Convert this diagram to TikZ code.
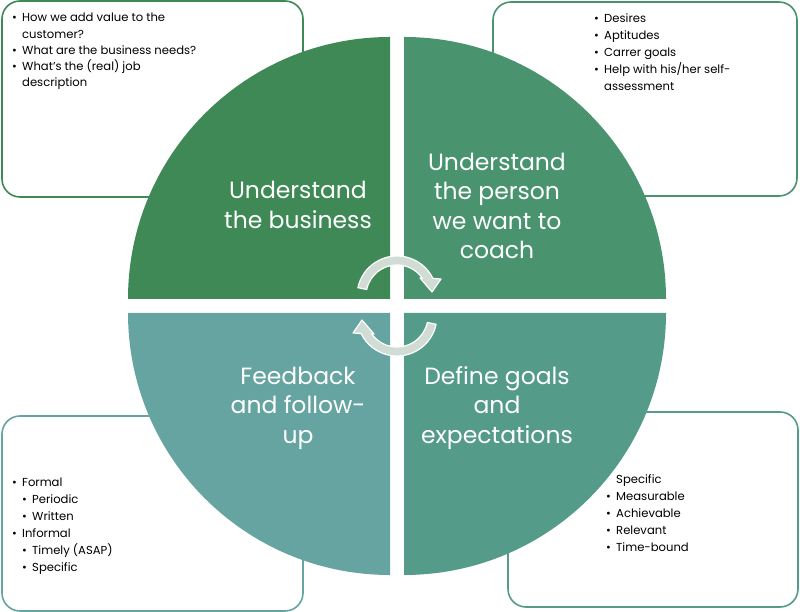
\documentclass[tikz,border=0pt]{standalone}
\usepackage{fontspec}
\setmainfont{Poppins}

\definecolor{cA}{RGB}{62,137,85}
\definecolor{cB}{RGB}{73,148,111}
\definecolor{cC}{RGB}{84,155,138}
\definecolor{cD}{RGB}{101,164,161}
\definecolor{arrowfill}{RGB}{209,220,212}

% bullet and hanging indent for the note lists
\newcommand{\bul}{\makebox[10pt][l]{\textbullet}}
\newcommand{\ind}{\hspace*{10pt}}

\begin{document}
\begin{tikzpicture}[x=1pt,y=1pt,
  panel/.style={line width=1.6pt, rounded corners=18pt, fill=white},
  note/.style={anchor=north west, inner sep=0pt, align=left,
    font=\fontsize{11.6}{17}\selectfont, text=black},
  title/.style={text=white, align=center, inner sep=0pt,
    font=\fontsize{23.5}{29.5}\selectfont},
  cyclearrow/.style={fill=arrowfill, draw=white, line width=1.2pt, line join=round}]
\useasboundingbox (0,0) rectangle (800,612);

% corner panels behind the disc
\draw[panel, draw=cA] (2,415) rectangle (303,611);
\draw[panel, draw=cB] (493,416) rectangle (797,610);
\draw[panel, draw=cC] (508,5) rectangle (798,200);
\draw[panel, draw=cD] (2,1) rectangle (303,196);

% the four quarter sectors
\fill[cA] (390,313) -- (128,313) arc[start angle=180, end angle=90, radius=262] -- cycle;
\fill[cB] (404,313) -- (404,575) arc[start angle=90, end angle=0, radius=262] -- cycle;
\fill[cC] (404,299) -- (666,299) arc[start angle=0, end angle=-90, radius=262] -- cycle;
\fill[cD] (390,299) -- (390,37) arc[start angle=270, end angle=180, radius=262] -- cycle;

% sector titles
\node[title] (tA) at (298,407) {Understand\\the business};
\node[title] (tB) at (497,406) {Understand\\the person\\we want to\\coach};
\node[title] (tC) at (497,204) {Define goals\\and\\expectations};
\node[title] (tD) at (298,204) {Feedback\\and follow-\\up};

% panel notes
\node[note, font=\fontsize{11.6}{16.3}\selectfont] (nA) at (12,599) {\bul How we add value to the\\\ind customer?\\\bul What are the business needs?\\\bul What's the (real) job\\\ind description};
\node[note] (nB) at (594,599) {\bul Desires\\\bul Aptitudes\\\bul Carrer goals\\\bul Help with his/her self-\\\ind assessment};
\node[note] (nC) at (606,138) {\ind Specific\\\bul Measurable\\\bul Achievable\\\bul Relevant\\\bul Time-bound};
\node[note] (nD) at (12,134) {\bul Formal\\\ind\bul Periodic\\\ind\bul Written\\\bul Informal\\\ind\bul Timely (ASAP)\\\ind\bul Specific};

% cycle arrows at the centre: a curved band ending in a head
\tikzset{cyclepath/.pic={
  \draw[cyclearrow] (168:40) arc[start angle=168, end angle=26, radius=40]
    -- (44,17) -- (35,4) -- (23,18) -- (35:31)
    arc[start angle=35, end angle=168, radius=31] -- cycle;
}}
\pic (arrTop) at (397,316) {cyclepath};
\pic[rotate=180] (arrBottom) at (397,296) {cyclepath};
\end{tikzpicture}
\end{document}
